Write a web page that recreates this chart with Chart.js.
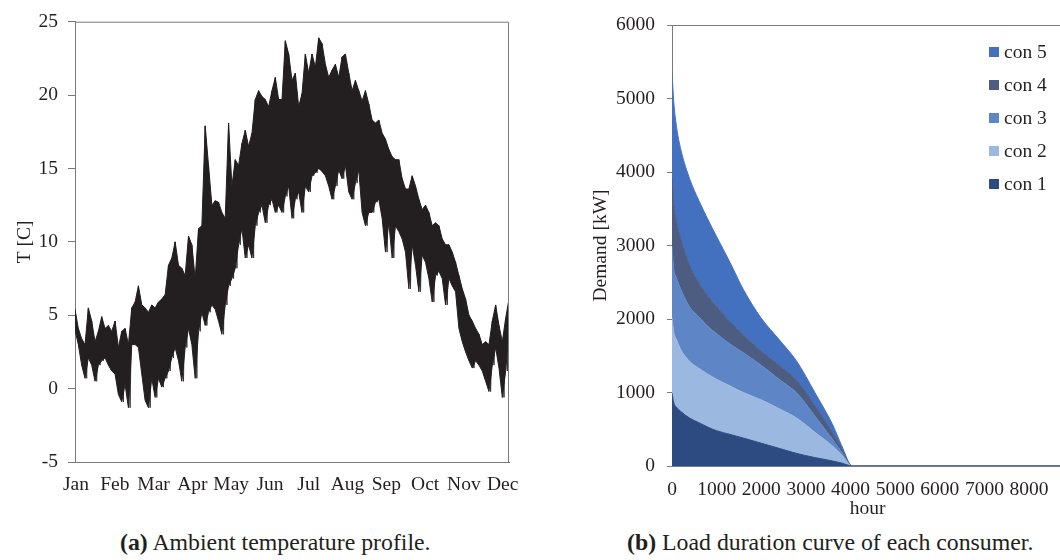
<!DOCTYPE html>
<html><head><meta charset="utf-8">
<script src="https://cdn.jsdelivr.net/npm/chart.js@4.4.1/dist/chart.umd.min.js"></script>
<style>
html,body{margin:0;padding:0;background:#fff;width:1060px;height:560px;overflow:hidden;position:relative;font-family:'Liberation Serif','Times New Roman',serif;color:#231f20}
#c1{position:absolute;left:0;top:0;width:530px;height:520px}
#c2{position:absolute;left:560px;top:0;width:520px;height:526px}
.cap{position:absolute;font-size:23.8px;line-height:28px;white-space:nowrap;font-family:'Liberation Serif','Times New Roman',serif}
#legend{position:absolute;left:989px;top:35px;font-family:'Liberation Serif','Times New Roman',serif}
.li{display:flex;align-items:center;height:33px;font-size:19.5px}
.sw{width:10px;height:10px;margin-right:5px}
</style></head><body>
<canvas id="c1" width="530" height="520"></canvas>
<canvas id="c2" width="520" height="526"></canvas>
<div id="legend"></div>
<div class="cap" style="left:120px;top:528px"><b>(a)</b> Ambient temperature profile.</div>
<div class="cap" style="left:627px;top:528px"><b>(b)</b> Load duration curve of each consumer.</div>
<script>
// ---------- (a) ambient temperature ----------
const monthLabels = ['Jan','Feb','Mar','Apr','May','Jun','Jul','Aug','Sep','Oct','Nov','Dec'];
const monthTickHours = [20, 803, 1586, 2369, 3152, 3935, 4718, 5501, 6284, 7067, 7850, 8633];
const tempTicks = [-5, 0, 5, 10, 15, 20, 25];
// upper / lower excursions of the hourly temperature read along the year
const tempHigh = [5.4,4.1,3.4,3.0,5.5,4.6,3.2,3.9,4.9,4.1,4.3,3.9,4.6,2.8,3.9,4.1,3.0,5.5,5.9,7.0,
  5.7,5.5,5.2,5.7,5.5,5.9,6.1,6.4,8.4,8.9,10.0,8.4,8.2,7.7,10.4,9.8,7.5,10.9,11.1,17.9,
  15.2,12.5,12.8,12.7,12.0,11.6,18.1,13.8,15.6,15.2,16.7,17.6,16.5,17.4,19.7,20.3,19.9,19.7,19.2,20.3,
  21.2,19.7,19.7,23.7,22.8,21.0,21.5,19.2,20.1,22.8,21.5,22.8,21.9,23.9,23.5,22.1,21.2,21.7,22.1,21.2,
  22.6,22.8,21.5,20.3,21.0,20.3,19.6,20.3,19.4,18.3,18.1,18.3,17.4,17.0,16.3,15.8,15.6,15.6,14.3,13.6,
  13.6,14.5,13.8,12.9,12.2,12.5,12.0,11.1,11.3,11.1,10.2,9.8,9.8,9.3,8.6,7.7,6.8,6.1,5.0,4.6,
  4.1,3.7,3.0,3.2,3.0,4.6,5.7,4.3,3.2,4.8,6.1];
const tempLow = [4.0,3.0,1.6,0.7,2.1,1.6,0.5,1.6,1.9,2.1,1.6,1.2,1.0,-0.4,-0.9,0.3,-1.3,3.0,3.0,2.8,
  1.0,-0.8,-1.3,0.7,-0.6,0.7,0.1,0.7,1.2,2.1,2.8,1.9,0.5,2.8,4.1,3.0,0.7,3.9,5.2,4.3,
  5.2,5.7,5.4,4.6,3.7,5.7,7.0,7.5,8.2,9.8,10.9,8.9,9.8,8.9,11.1,12.0,12.5,11.3,12.5,12.9,
  12.0,12.5,12.0,13.1,13.8,11.6,12.9,13.4,12.0,13.8,13.4,14.5,14.7,15.0,14.8,14.5,13.8,12.9,13.8,14.9,
  14.3,15.2,13.4,12.9,14.0,14.9,12.0,11.1,12.0,12.0,12.7,12.9,11.6,9.3,11.3,8.9,11.1,10.7,10.2,9.3,
  6.8,9.8,8.4,6.6,9.1,8.6,7.5,5.9,7.7,8.0,7.5,5.7,7.5,7.0,6.6,4.1,3.2,2.5,1.9,1.4,
  1.9,1.6,1.2,0.5,-0.2,1.6,2.8,1.4,-0.6,1.2,3.9];

// ---------- (b) load duration curves ----------
const durationHours = [0, 40, 100, 200, 400, 600, 800, 1000, 1300, 1600, 2000, 2400, 2800, 3200, 3600, 3800, 4040, 8760];
const con1 = [990, 860, 800, 740, 650, 590, 530, 480, 430, 380, 310, 240, 170, 115, 68, 40, 0, 0];
const con2 = [1030, 960, 920, 840, 770, 740, 720, 700, 660, 620, 590, 540, 480, 345, 202, 110, 0, 0];
const con3 = [960, 860, 840, 820, 740, 700, 650, 620, 570, 540, 470, 400, 340, 220, 90, 40, 0, 0];
const con4 = [950, 870, 770, 680, 560, 460, 410, 370, 300, 240, 190, 190, 170, 140, 90, 50, 0, 0];
const con5 = [1420, 1400, 1290, 1220, 1180, 1124, 1050, 950, 810, 620, 450, 350, 260, 180, 110, 40, 0, 0];
const consumerNames = ['con 1', 'con 2', 'con 3', 'con 4', 'con 5'];
const demandTicks = [0, 1000, 2000, 3000, 4000, 5000, 6000];
const hourTicks = [0, 1000, 2000, 3000, 4000, 5000, 6000, 7000, 8000];

// ---------- styling ----------
const INK = '#231f20';
const AXIS = '#7a7a7a';
const consumerColors = ['#2d4b80', '#9ab8e0', '#5e86c6', '#4d5d82', '#4471bf'];
Chart.defaults.font.family = "'Liberation Serif','Times New Roman',serif";
Chart.defaults.font.size = 19.5;
Chart.defaults.color = INK;
Chart.defaults.animation = false;

const framePlugin = {
  id: 'frame',
  afterDatasetsDraw(chart) {
    const {ctx, chartArea: {left, top, right, bottom}} = chart;
    ctx.save();
    ctx.strokeStyle = AXIS;
    ctx.lineWidth = 1;
    ctx.beginPath();
    ctx.moveTo(left, top + 0.5);
    ctx.lineTo(right - 0.5, top + 0.5);
    ctx.lineTo(right - 0.5, bottom);
    ctx.stroke();
    ctx.restore();
  }
};

const YEAR_HOURS = 8760;
const sampleStep = YEAR_HOURS / (tempHigh.length - 1);
const highPts = tempHigh.map((v, i) => ({x: i * sampleStep, y: v}));
const lowPts = tempLow.map((v, i) => ({x: i * sampleStep, y: v}));
// the same readings traced as one hourly-like trace (high, then low half a step later)
const tracePts = [];
tempHigh.forEach((v, i) => {
  tracePts.push({x: i * sampleStep, y: v});
  if (i < tempHigh.length - 1) tracePts.push({x: (i + 0.5) * sampleStep, y: tempLow[i]});
});

new Chart(document.getElementById('c1'), {
  type: 'line',
  data: { datasets: [
    { label: 'T max', data: highPts, borderColor: INK, backgroundColor: INK, borderWidth: 1,
      borderJoinStyle: 'bevel', pointRadius: 0, tension: 0, fill: '+1' },
    { label: 'T min', data: lowPts, borderColor: INK, borderWidth: 1,
      borderJoinStyle: 'bevel', pointRadius: 0, tension: 0, fill: false },
    { label: 'T', data: tracePts, borderColor: '#3a3637', borderWidth: 1,
      borderJoinStyle: 'bevel', pointRadius: 0, tension: 0, fill: false }
  ]},
  options: {
    responsive: false, animation: false, events: [],
    layout: { padding: {left: 0, top: 17, right: 21, bottom: 0} },
    plugins: { legend: {display: false}, tooltip: {enabled: false} },
    scales: {
      x: {
        type: 'linear', min: 0, max: YEAR_HOURS,
        afterBuildTicks: s => { s.ticks = monthTickHours.map(v => ({value: v})); },
        ticks: { autoSkip: false, maxRotation: 0, minRotation: 0, padding: 11,
                 callback: (v, i) => monthLabels[i] },
        grid: { display: false, drawTicks: false },
        border: { color: AXIS },
        afterFit: s => { s.height = 58; }
      },
      y: {
        min: -5, max: 25,
        afterBuildTicks: s => { s.ticks = tempTicks.map(v => ({value: v})); },
        ticks: { padding: 10, callback: v => String(v) },
        grid: { drawOnChartArea: false, tickLength: 7, color: AXIS },
        border: { color: AXIS },
        title: { display: true, text: 'T [C]', padding: {top: 13, bottom: 0} },
        afterFit: s => { s.width = 75; }
      }
    }
  },
  plugins: [framePlugin]
});

const c2 = new Chart(document.getElementById('c2'), {
  type: 'line',
  data: {
    datasets: [con1, con2, con3, con4, con5].map((vals, k) => ({
      label: consumerNames[k],
      data: vals.map((v, i) => ({x: durationHours[i], y: v})),
      backgroundColor: consumerColors[k],
      borderColor: consumerColors[k],
      borderWidth: 1,
      pointRadius: 0,
      cubicInterpolationMode: 'monotone',
      fill: k === 0 ? 'origin' : '-1'
    }))
  },
  options: {
    responsive: false, animation: false, events: [],
    layout: { padding: {left: 0, top: 25, right: 17, bottom: 0} },
    plugins: { legend: {display: false}, tooltip: {enabled: false} },
    scales: {
      x: {
        type: 'linear', min: 0, max: YEAR_HOURS, z: 1,
        afterBuildTicks: s => { s.ticks = hourTicks.map(v => ({value: v})); },
        ticks: { autoSkip: false, maxRotation: 0, minRotation: 0,
                 padding: 12, callback: v => String(v) },
        grid: { display: false, drawTicks: false },
        border: { color: AXIS },
        title: { display: true, text: 'hour', padding: {top: 0, bottom: 5} },
        afterFit: s => { s.height = 60; }
      },
      y: {
        stacked: true, min: 0, max: 6000, z: 1,
        afterBuildTicks: s => { s.ticks = demandTicks.map(v => ({value: v})); },
        ticks: { padding: 12, callback: v => String(v) },
        grid: { drawOnChartArea: false, tickLength: 5, color: AXIS },
        border: { color: AXIS },
        title: { display: true, text: 'Demand [kW]', padding: {top: 29, bottom: 0} },
        afterFit: s => { s.width = 112; }
      }
    }
  },
  plugins: [framePlugin]
});

// legend (HTML, built from the chart's own datasets, top entry = last series)
const legendEl = document.getElementById('legend');
[...c2.data.datasets].reverse().forEach(ds => {
  const row = document.createElement('div');
  row.className = 'li';
  const sw = document.createElement('span');
  sw.className = 'sw';
  sw.style.background = ds.backgroundColor;
  const tx = document.createElement('span');
  tx.textContent = ds.label;
  row.appendChild(sw); row.appendChild(tx);
  legendEl.appendChild(row);
});
</script>
</body></html>
